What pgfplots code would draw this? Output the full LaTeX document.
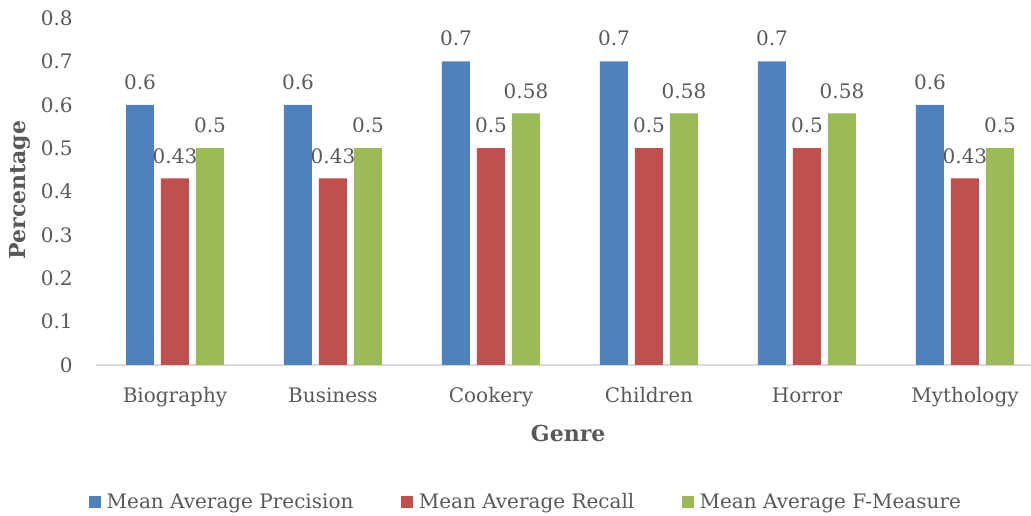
\documentclass[border=0pt]{standalone}
\usepackage{pgfplots}
\pgfplotsset{compat=1.18}
\usepackage{fontspec}
\setmainfont{DejaVu Serif}
\definecolor{precblue}{HTML}{4F81BD}
\definecolor{recred}{HTML}{C0504D}
\definecolor{fgreen}{HTML}{9BBB59}
\definecolor{txtgray}{HTML}{595959}
\definecolor{axgray}{HTML}{D9D9D9}
\begin{document}
\begin{tikzpicture}[font=\fontsize{15}{17}\selectfont, text=txtgray]
\path[use as bounding box] (-72pt,-113.25pt) rectangle (701.25pt,273.75pt);
\begin{axis}[
  scale only axis,
  width=701.25pt, height=260.25pt,
  xmin=-0.5, xmax=5.418,
  ymin=0, ymax=0.8,
  ytick={0,0.1,...,0.8},
  yticklabel shift=14pt,
  y tick label style={/pgf/number format/fixed, /pgf/number format/precision=1},
  /pgf/number format/assume math mode=true,
  xtick={0,1,2,3,4,5},
  xticklabels={Biography,Business,Cookery,Children,Horror,Mythology},
  xticklabel style={anchor=base, yshift=-28.5pt},
  major tick length=0pt,
  axis x line*=bottom,
  axis y line*=left,
  x axis line style={draw=axgray, line width=1.2pt, -},
  y axis line style={draw=none, -},
  ybar, bar width=0.1772,
  clip=false,
  xlabel={\bfseries Genre},
  ylabel={\bfseries Percentage},
  every axis x label/.style={at={(rel axis cs:0.505,0)}, yshift=-51pt, anchor=center,
    font=\fontsize{16.5}{19}\selectfont},
  every axis y label/.style={at={(rel axis cs:0,0.504)}, xshift=-57pt, anchor=center, rotate=90,
    font=\fontsize{16.5}{19}\selectfont},
  nodes near coords,
  every node near coord/.append style={anchor=center, yshift=17pt, text=txtgray},
  point meta=explicit symbolic,
  legend columns=3,
  legend style={at={(0.4604,-0.395)}, anchor=center, draw=none, fill=none,
    font=\fontsize{15}{17}\selectfont, text=txtgray,
    /tikz/every even column/.append style={column sep=34pt},
    /tikz/every odd column/.append style={column sep=2pt}},
  legend image code/.code={\fill[#1, draw=none] (0pt,-4.5pt) rectangle (9pt,4.5pt);},
]
\addplot[fill=precblue, draw=none, bar shift=-0.2215] coordinates {(0,0.6)[0.6] (1,0.6)[0.6] (2,0.7)[0.7] (3,0.7)[0.7] (4,0.7)[0.7] (5,0.6)[0.6]};
\addplot[fill=recred, draw=none, bar shift=0] coordinates {(0,0.43)[0.43] (1,0.43)[0.43] (2,0.5)[0.5] (3,0.5)[0.5] (4,0.5)[0.5] (5,0.43)[0.43]};
\addplot[fill=fgreen, draw=none, bar shift=0.2215] coordinates {(0,0.5)[0.5] (1,0.5)[0.5] (2,0.58)[0.58] (3,0.58)[0.58] (4,0.58)[0.58] (5,0.5)[0.5]};
\legend{Mean Average Precision, Mean Average Recall, Mean Average F-Measure}
\end{axis}
\end{tikzpicture}
\end{document}
